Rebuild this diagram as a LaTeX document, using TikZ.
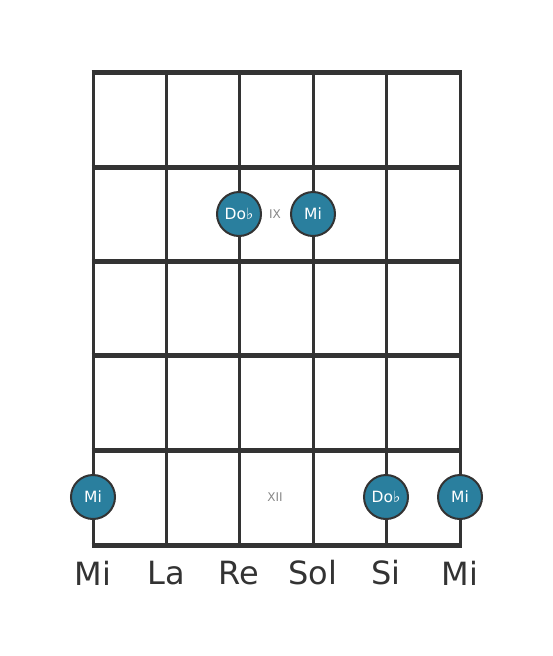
\documentclass[tikz,border=0pt]{standalone}
\usepackage{fontspec}
\setmainfont{DejaVu Sans}
\definecolor{linec}{HTML}{333333}
\definecolor{dotc}{HTML}{2A7F9E}
\definecolor{labc}{HTML}{888888}
\begin{document}
\begin{tikzpicture}[x=1pt,y=-1pt,
  fret/.style={draw=linec,line width=5pt},
  str/.style={draw=linec,line width=3pt},
  notedot/.style={circle,fill=dotc,draw=linec,line width=2pt,minimum size=44pt,inner sep=0pt,text=white,font=\fontsize{15.5}{15.5}\selectfont},
  fretlab/.style={text=labc,font=\fontsize{12}{12}\selectfont},
  strlab/.style={text=linec,font=\fontsize{32}{32}\selectfont}]
\useasboundingbox (0,0) rectangle (553,656);
\foreach \x [count=\i] in {93,166,239,313,386,460}{
  \coordinate (st\i) at (\x,72);
  \coordinate (sb\i) at (\x,545);
  \draw[str] (st\i) -- (sb\i);
}
\foreach \y [count=\j] in {72,167,261,355,450,545}{
  \coordinate (fl\j) at (91.5,\y);
  \coordinate (fr\j) at (461.5,\y);
  \draw[fret] (fl\j) -- (fr\j);
}
\node[notedot] (d1) at (239,214) {Do♭};
\node[notedot] (d2) at (313,214) {Mi};
\node[fretlab] (l9) at (275,214) {IX};
\node[notedot] (d3) at (93,497) {Mi};
\node[fretlab] (l12) at (275,497) {XII};
\node[notedot] (d4) at (386,497) {Do♭};
\node[notedot] (d5) at (460,497) {Mi};
\foreach \x/\t [count=\i] in {93/Mi,166/La,239/Re,313/Sol,386/Si,460/Mi}{
  \node[strlab] (n\i) at (\x,573) {\t};
}
\end{tikzpicture}
\end{document}
